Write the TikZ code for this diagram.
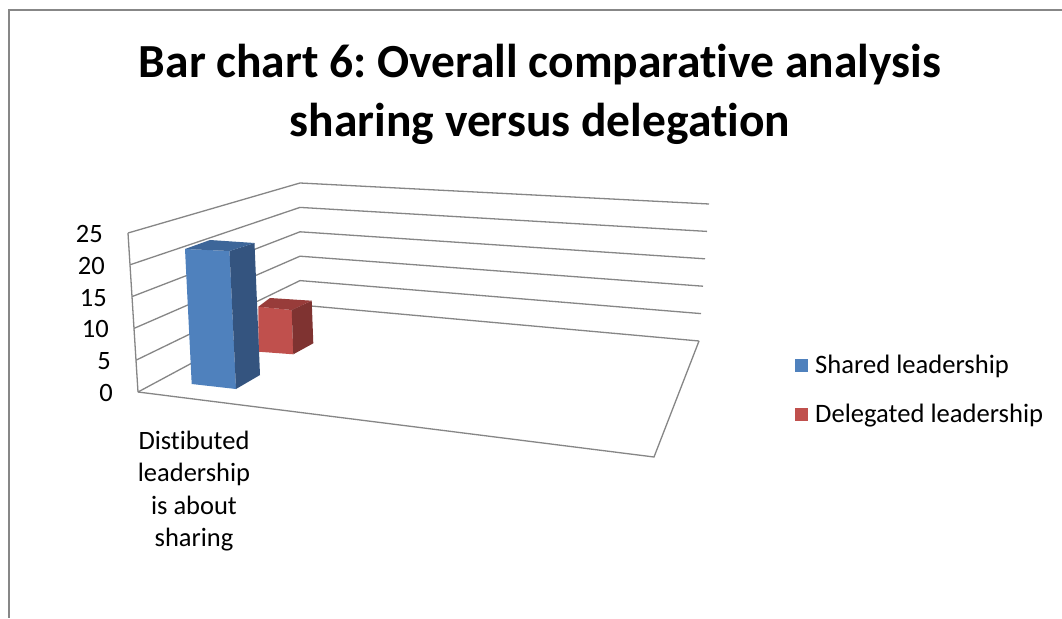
\documentclass[tikz,border=0pt]{standalone}
\usepackage{fontspec}
\setmainfont{Carlito}[Ligatures=NoCommon]
\frenchspacing
\definecolor{gridgray}{HTML}{868686}
\definecolor{framegray}{HTML}{878787}
\definecolor{bluefront}{HTML}{4F81BD}
\definecolor{blueside}{HTML}{34547F}
\definecolor{bluetop}{HTML}{3D6699}
\definecolor{redfront}{HTML}{C0504D}
\definecolor{redside}{HTML}{7F3331}
\definecolor{redtop}{HTML}{983C3A}
\tikzset{
  gridline/.style={draw=gridgray, line width=1.3pt},
  frameline/.style={draw=framegray, line width=1.3pt},
  ticklabel/.style={anchor=east, inner sep=0pt, font=\fontsize{26.5}{31}\selectfont},
  legendtext/.style={anchor=base west, inner sep=0pt, font=\fontsize{26.6}{31}\selectfont},
  legendkey/.style={minimum size=13pt, inner sep=0pt},
}
\begin{document}
\begin{tikzpicture}[x=1pt,y=-1pt]
\useasboundingbox (0,0) rectangle (1062,618);
\fill[white] (0,0) rectangle (1062,618);
% outer frame
\draw[frameline] (1062,10) -- (9,10) -- (9,618);
% title
\node[anchor=north, align=center, inner sep=0pt, font=\fontsize{47.5}{59}\selectfont\bfseries] (title) at (540,44)
  {Bar chart 6: Overall comparative analysis\\sharing versus delegation};
% grid: front edge F, back-left B, back-right R
\foreach \k in {0,...,5}{
  \pgfmathsetmacro{\t}{\k/5}
  \coordinate (F\k) at ({138-10*\t},{392-159*\t});
  \coordinate (B\k) at (300,{305-122*\t});
  \coordinate (R\k) at ({699+10*\t},{341-137*\t});
  \draw[gridline] (F\k) -- (B\k) -- (R\k);
}
% front edge of the left wall
\draw[gridline] (F0) -- (F5);
% floor
\coordinate (FR) at (654,457);
\draw[gridline] (F0) -- (FR) -- (R0);
% tick labels
\foreach \k/\v in {0/0,1/5,2/10,3/15,4/20,5/25}{
  \pgfmathsetmacro{\t}{\k/5}
  \node[ticklabel] (tick\k) at ({138-10*\t-25},{392-159*\t+1}) {\v};
}
% red bar (behind)
\fill[redfront] (258.3,306.7) -- (291.7,310) -- (293.3,354.3) -- (258.3,351.7) -- cycle;
\fill[redside] (291.7,310) -- (311.7,300.7) -- (313.3,343.3) -- (293.3,354.3) -- cycle;
\fill[redtop] (258.3,306.7) -- (270,298) -- (311.7,300.7) -- (291.7,310) -- cycle;
% blue bar (front)
\fill[bluefront] (185,249) -- (229.5,251) -- (236,389) -- (191.7,384) -- cycle;
\fill[blueside] (229.5,251) -- (254.5,243) -- (260,375) -- (236,389) -- cycle;
\fill[bluetop] (185,249) -- (210,240) -- (254.5,243) -- (229.5,251) -- cycle;
% category label
\node[anchor=north, align=center, inner sep=0pt, font=\fontsize{26.5}{32.3}\selectfont] (cat) at (194,431)
  {Distibuted\\leadership\\is about\\sharing};
% legend
\node[legendkey, fill=bluefront] (key1) at (801.5,365) {};
\node[legendtext] (lab1) at (815,373.3) {Shared leadership};
\node[legendkey, fill=redfront] (key2) at (801.5,414) {};
\node[legendtext] (lab2) at (815,422.3) {Delegated leadership};
\end{tikzpicture}
\end{document}
